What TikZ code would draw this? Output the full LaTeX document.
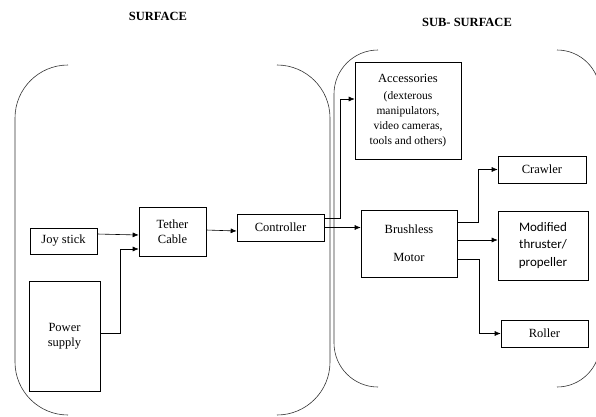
\documentclass[tikz,border=0pt]{standalone}
\usepackage{fontspec}
\setmainfont{Liberation Serif}
\newfontfamily\calfont{Carlito}
\usetikzlibrary{arrows.meta, positioning}
\newcommand\subtxt{\fontsize{11.5}{15}\selectfont}
\tikzset{blk/.style = {draw, line width=0.6pt, inner sep=0pt, align=center, font=\rmfamily\fontsize{12.5}{15}\selectfont},
         arr/.style = {line width=0.6pt, -{Latex[length=6pt,width=5pt]}},
         bracketline/.style = {draw=black!80, line width=0.6pt, rounded corners=#1}}

\begin{document}
\begin{tikzpicture}[x=1pt, y=-1pt]
    \useasboundingbox (0,0) rectangle (596,416);
    \clip (0,0) rectangle (596,416);

    % section titles
    \node [font=\fontsize{12.5}{15}\selectfont\bfseries] (surf) at (158,16) {SURFACE};
    \node [font=\fontsize{12.5}{15}\selectfont\bfseries] (subsurf) at (467,22) {SUB- SURFACE};

    % surface / sub-surface brackets
    \draw [bracketline=53pt] (68,65) -- (15,65) -- (15,415) -- (68,415);
    \draw [bracketline=53pt] (278,65) -- (330,65) -- (330,415) -- (278,415);
    \draw [bracketline=44pt] (378,50) -- (334,50) -- (334,387) -- (378,387);
    \draw [bracketline=43pt] (557,50) -- (600,50) -- (600,387) -- (557,387);

    % blocks
    \node [blk, minimum width=67pt, minimum height=26pt] (joy) at (63.5,241) {Joy stick};
    \node [blk, minimum width=71pt, minimum height=110pt] (power) at (64.5,336) {Power\\supply};
    \node [blk, minimum width=67pt, minimum height=49pt] (tether) at (172.5,231.5) {Tether\\Cable};
    \node [blk, minimum width=87pt, minimum height=27pt] (ctrl) at (280.5,227.5) {Controller};
    \node [blk, minimum width=106pt, minimum height=97pt] (acc) at (408,110.5)
        {Accessories\\[2pt] \subtxt (dexterous\\ \subtxt manipulators,\\ \subtxt video cameras,\\ \subtxt tools and others)};
    \node [blk, minimum width=96pt, minimum height=67pt] (motor) at (409,243.5) {Brushless\\[13pt]Motor};
    \node [blk, minimum width=88pt, minimum height=27pt] (crawler) at (542,169.5) {Crawler};
    \node [blk, minimum width=90pt, minimum height=69pt, font=\calfont\fontsize{13}{17.5}\selectfont] (thruster) at (543,245.5) {Modified\\thruster/\\propeller};
    \node [blk, minimum width=87pt, minimum height=27pt] (roller) at (544.5,333.5) {Roller};

    % connectors
    \draw [arr] ([yshift=7pt]joy.east) -- ([yshift=-3.5pt]tether.west);
    \draw [arr] ([yshift=3pt]power.east) -- ++(20,0) |- ([yshift=-17.5pt]tether.west);
    \draw [arr] ([yshift=1.5pt]tether.east) -- ([yshift=-3.5pt]ctrl.west);
    \draw [arr] ([yshift=9.5pt]ctrl.east) -- ++(16,0) |- ([yshift=11.5pt]acc.west);
    \draw [arr] (ctrl.east) -- (ctrl.east -| motor.west);
    \draw [arr] ([yshift=21.5pt]motor.east) -- ++(21,0) |- (crawler.west);
    \draw [arr] ([yshift=3.5pt]motor.east) -- ([yshift=5.5pt]thruster.west);
    \draw [arr] ([yshift=-15.5pt]motor.east) -- ++(22,0) |- (roller.west);
\end{tikzpicture}
\end{document}
